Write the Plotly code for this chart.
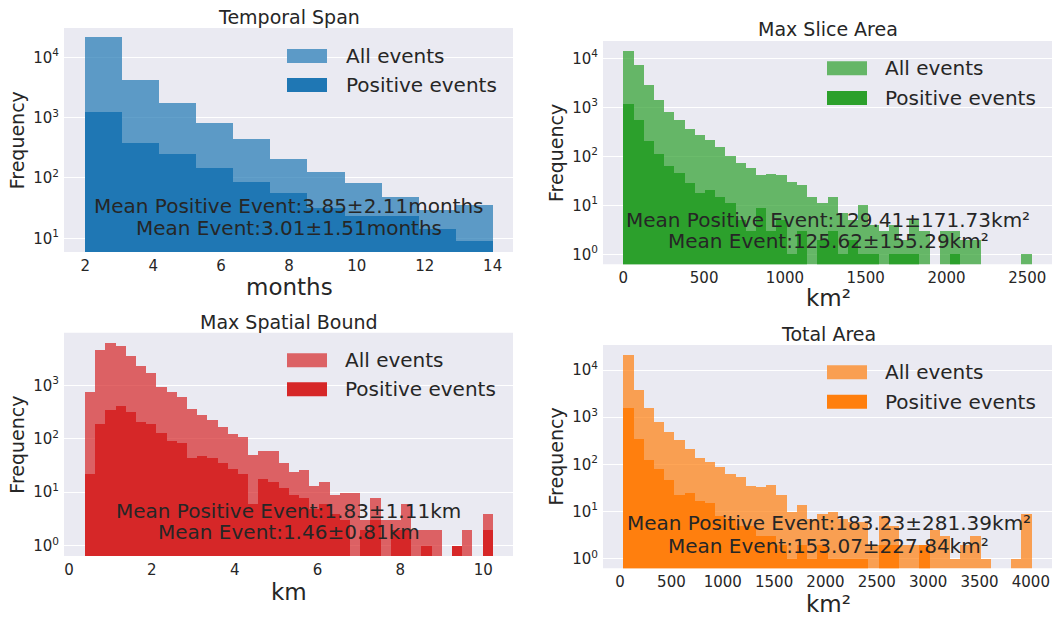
import numpy as np
import plotly.graph_objects as go

W, H = 1054, 618

# ---------------- data (counts per bin) ----------------
# Temporal Span (months): 11 equal bins between 2 and 14
span_lo, span_hi = 2.0, 14.0
span_all = [21500, 4190, 1760, 825, 435, 207, 127, 84, 49, 30, 36]
span_pos = [1260, 383, 251, 145, 85, 57, 32, 23, 23, 14, 9]

# Max Slice Area (km²): 40 equal bins
slice_lo, slice_hi = 0.0, 2527.0
slice_all = [14100, 7200, 2810, 1390, 816, 543, 356, 277, 219, 153,
             100, 72, 59, 42, 43, 41, 30, 26, 15, 11,
             15, 7, 5, 10, 4, 3, 4, 2, 5, 3,
             0, 3, 3, 2, 2, 0, 0, 0, 0, 1]
slice_pos = [1170, 551, 206, 112, 62, 45, 28, 18, 21, 15,
             11, 5, 3, 9, 3, 5, 1, 3, 0, 2,
             3, 1, 2, 1, 1, 0, 1, 1, 1, 0,
             0, 0, 1, 0, 0, 0, 0, 0, 0, 0]

# Max Spatial Bound (km): 40 equal bins
bound_lo, bound_hi = 0.387, 10.23
bound_all = [745, 4680, 6220, 5470, 3660, 2350, 1710, 964, 767, 618,
             363, 281, 223, 165, 122, 109, 50, 60, 60, 35,
             24, 26, 13, 16, 9, 10, 10, 3, 8, 3,
             3, 6, 2, 2, 2, 0, 1, 2, 0, 4]
bound_pos = [22, 188, 353, 420, 315, 205, 194, 130, 94, 84,
             45, 49, 44, 35, 28, 22, 6, 18, 16, 12,
             9, 8, 5, 6, 4, 3, 0, 2, 3, 0,
             2, 2, 0, 1, 0, 0, 1, 0, 0, 2]

# Total Area (km²): 40 equal bins
total_lo, total_hi = 33.0, 4007.0
total_all = [20500, 3830, 1540, 804, 485, 328, 208, 136, 112, 86,
             64, 54, 34, 33, 36, 22, 10, 14, 7, 9,
             10, 7, 6, 6, 2, 8, 5, 2, 2, 2,
             4, 3, 1, 2, 3, 1, 0, 0, 1, 9]
total_pos = [1540, 339, 124, 81, 46, 22, 25, 17, 15, 8,
             7, 5, 5, 3, 3, 2, 1, 2, 1, 2,
             1, 1, 1, 1, 0, 2, 2, 0, 0, 2,
             0, 0, 0, 0, 0, 0, 0, 0, 0, 0]

titles = ["Temporal Span", "Max Slice Area", "Max Spatial Bound", "Total Area"]
xlabels = ["months", "km²", "km", "km²"]
mean_pos_txt = ["Mean Positive Event:3.85±2.11months",
                "Mean Positive Event:129.41±171.73km²",
                "Mean Positive Event:1.83±1.11km",
                "Mean Positive Event:183.23±281.39km²"]
mean_all_txt = ["Mean Event:3.01±1.51months",
                "Mean Event:125.62±155.29km²",
                "Mean Event:1.46±0.81km",
                "Mean Event:153.07±227.84km²"]
legend_names = ["All events", "Positive events"]

colors = ["#1f77b4", "#2ca02c", "#d62728", "#ff7f0e"]

# ---------------- layout geometry (pixels) ----------------
panels = [
    dict(lo=span_lo, hi=span_hi, all=span_all, pos=span_pos,
         box=(64, 513, 28, 252), xr=[1.373, 14.6], yr=[0.773, 4.486],
         xt=[2, 4, 6, 8, 10, 12, 14], yt=[1, 2, 3, 4],
         title_y=17, xlab_y=286.7, ylab_x=17.3, cx=289,
         mean_y=(205.7, 228.3), leg=(287, 327, 344, 56, 85)),
    dict(lo=slice_lo, hi=slice_hi, all=slice_all, pos=slice_pos,
         box=(603, 1052, 41, 264.3), xr=[-126, 2653], yr=[-0.204, 4.353],
         xt=[0, 500, 1000, 1500, 2000, 2500], yt=[0, 1, 2, 3, 4],
         title_y=29.3, xlab_y=297.5, ylab_x=555.3, cx=828,
         mean_y=(219.8, 241.2), leg=(827, 867, 883.4, 68.3, 98.0)),
    dict(lo=bound_lo, hi=bound_hi, all=bound_all, pos=bound_pos,
         box=(64, 513, 332.7, 556), xr=[-0.12, 10.72], yr=[-0.193, 3.985],
         xt=[0, 2, 4, 6, 8, 10], yt=[0, 1, 2, 3],
         title_y=321.7, xlab_y=592.3, ylab_x=17.3, cx=288.6,
         mean_y=(511, 532.3), leg=(287, 327, 343.3, 360.2, 389.3)),
    dict(lo=total_lo, hi=total_hi, all=total_all, pos=total_pos,
         box=(603, 1052, 345, 568.3), xr=[-166, 4206], yr=[-0.203, 4.53],
         xt=[0, 500, 1000, 1500, 2000, 2500, 3000, 3500, 4000], yt=[0, 1, 2, 3, 4],
         title_y=334, xlab_y=604, ylab_x=555.8, cx=828.5,
         mean_y=(523.3, 545.7), leg=(827, 867, 883.4, 372.2, 401.7)),
]

FONT = "DejaVu Sans"
TXT = "#262626"
BG = "#EAEAF2"


def px(x):
    return x / W


def py(y):
    return 1 - y / H


def light(hex_color, alpha=0.7, bg=(234, 234, 242)):
    h = hex_color.lstrip("#")
    c = [int(h[i:i + 2], 16) for i in (0, 2, 4)]
    m = [round(alpha * c[i] + (1 - alpha) * bg[i]) for i in range(3)]
    return "rgb(%d,%d,%d)" % tuple(m)


fig = go.Figure()
annotations = []
shapes = []

for k, p in enumerate(panels):
    n = len(p["all"])
    edges = np.linspace(p["lo"], p["hi"], n + 1)
    centers = (edges[:-1] + edges[1:]) / 2
    width = edges[1] - edges[0]
    suffix = "" if k == 0 else str(k + 1)
    xa, ya = "x" + suffix, "y" + suffix
    ya_all = [v if v > 0 else None for v in p["all"]]
    ya_pos = [v if v > 0 else None for v in p["pos"]]
    fig.add_trace(go.Bar(x=centers, y=ya_all, width=[width] * n,
                         marker=dict(color=colors[k], opacity=0.7, line=dict(width=0)),
                         name=legend_names[0], showlegend=False,
                         xaxis=xa, yaxis=ya))
    fig.add_trace(go.Bar(x=centers, y=ya_pos, width=[width] * n,
                         marker=dict(color=colors[k], opacity=1.0, line=dict(width=0)),
                         name=legend_names[1], showlegend=False,
                         xaxis=xa, yaxis=ya))

    x0, x1, y0, y1 = p["box"]
    axis_common = dict(showline=False, zeroline=False, ticks="",
                       tickfont=dict(family=FONT, size=15, color=TXT))
    fig.update_layout(**{
        "xaxis" + suffix: dict(domain=[px(x0), px(x1)], anchor=ya, range=p["xr"],
                               showgrid=False, tickvals=p["xt"],
                               ticktext=[str(v) for v in p["xt"]],
                               ticklabelstandoff=3, **axis_common),
        "yaxis" + suffix: dict(domain=[py(y1), py(y0)], anchor=xa, type="log",
                               range=p["yr"], showgrid=True, gridcolor="white",
                               gridwidth=1.2, tickvals=[10 ** e for e in p["yt"]],
                               ticktext=["10<sup>%d</sup>" % e for e in p["yt"]],
                               ticklabelstandoff=4, **axis_common),
    })
    # plot background
    shapes.append(dict(type="rect", xref="paper", yref="paper", layer="below",
                       x0=px(x0), x1=px(x1), y0=py(y1), y1=py(y0),
                       fillcolor=BG, line=dict(width=0)))
    cx = p["cx"]
    annotations.append(dict(text=titles[k], x=px(cx), y=py(p["title_y"]),
                            font=dict(family=FONT, size=19, color=TXT)))
    annotations.append(dict(text=xlabels[k], x=px(cx), y=py(p["xlab_y"]),
                            font=dict(family=FONT, size=23, color=TXT)))
    annotations.append(dict(text="Frequency", x=px(p["ylab_x"]), y=py((y0 + y1) / 2),
                            textangle=-90, font=dict(family=FONT, size=19, color=TXT)))
    annotations.append(dict(text=mean_pos_txt[k], x=px(cx), y=py(p["mean_y"][0]),
                            font=dict(family=FONT, size=20, color=TXT)))
    annotations.append(dict(text=mean_all_txt[k], x=px(cx), y=py(p["mean_y"][1]),
                            font=dict(family=FONT, size=20, color=TXT)))
    lx0, lx1, ltx, ly_a, ly_b = p["leg"]
    for name, ly, col in [(legend_names[0], ly_a, light(colors[k])),
                          (legend_names[1], ly_b, colors[k])]:
        shapes.append(dict(type="rect", xref="paper", yref="paper",
                           x0=px(lx0), x1=px(lx1), y0=py(ly + 7), y1=py(ly - 7),
                           fillcolor=col, line=dict(width=0)))
        annotations.append(dict(text=name, x=px(ltx), y=py(ly), xanchor="left",
                                font=dict(family=FONT, size=20, color=TXT)))

for a in annotations:
    a.setdefault("xanchor", "center")
    a.update(xref="paper", yref="paper", yanchor="middle", showarrow=False)

fig.update_layout(width=W, height=H, margin=dict(l=0, r=0, t=0, b=0),
                  paper_bgcolor="white", plot_bgcolor="rgba(0,0,0,0)",
                  barmode="overlay", bargap=0, showlegend=False,
                  font=dict(family=FONT, color=TXT),
                  annotations=annotations, shapes=shapes)

fig.write_html("out.html")
